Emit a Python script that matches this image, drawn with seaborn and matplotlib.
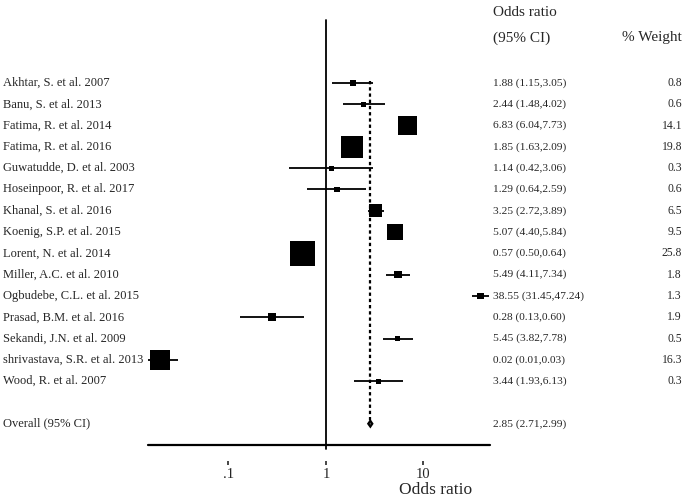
import numpy as np
import pandas as pd
import matplotlib.pyplot as plt
import matplotlib.transforms as mtransforms
import seaborn as sns

# Study data
studies = ["Akhtar, S. et al. 2007", "Banu, S. et al. 2013", "Fatima, R. et al. 2014",
           "Fatima, R. et al. 2016", "Guwatudde, D. et al. 2003", "Hoseinpoor, R. et al. 2017",
           "Khanal, S. et al. 2016", "Koenig, S.P. et al. 2015", "Lorent, N. et al. 2014",
           "Miller, A.C. et al. 2010", "Ogbudebe, C.L. et al. 2015", "Prasad, B.M. et al. 2016",
           "Sekandi, J.N. et al. 2009", "shrivastava, S.R. et al. 2013", "Wood, R. et al. 2007"]
odds = [1.88, 2.44, 6.83, 1.85, 1.14, 1.29, 3.25, 5.07, 0.57, 5.49, 38.55, 0.28, 5.45, 0.02, 3.44]
ci_low = [1.15, 1.48, 6.04, 1.63, 0.42, 0.64, 2.72, 4.40, 0.50, 4.11, 31.45, 0.13, 3.82, 0.01, 1.93]
ci_high = [3.05, 4.02, 7.73, 2.09, 3.06, 2.59, 3.89, 5.84, 0.64, 7.34, 47.24, 0.60, 7.78, 0.03, 6.13]
weights = [0.8, 0.6, 14.1, 19.8, 0.3, 0.6, 6.5, 9.5, 25.8, 1.8, 1.3, 1.9, 0.5, 16.3, 0.3]

overall_label = "Overall (95% CI)"
overall_or = 2.85
overall_low = 2.71
overall_high = 2.99

tick_values = [0.1, 1, 10]
tick_labels = [".1", "1", "10"]

df = pd.DataFrame({"study": studies, "odds": odds, "low": ci_low,
                   "high": ci_high, "weight": weights})
df["row"] = np.arange(len(df))
overall_row = len(df) + 1

sns.set_style("white")
plt.rcParams["font.family"] = ["Liberation Serif", "DejaVu Serif"]

fig = plt.figure(figsize=(6.85, 5.01), dpi=100)
ax = fig.add_axes([148 / 685, 1 - 445 / 501, 342 / 685, 425 / 501])
ax.set_xscale("log")

# confidence intervals
ax.hlines(df["row"], df["low"], df["high"], color="black", lw=1.3)

# weighted squares (area proportional to weight)
sns.scatterplot(data=df, x="odds", y="row", size="weight", sizes=(8, 330),
                size_norm=(0, 25.8), marker="s", color="black", linewidth=0,
                legend=False, ax=ax, zorder=3)

# line of no effect and overall estimate
ax.axvline(1, ymin=-0.01, color="black", lw=1.3, clip_on=False)
ax.vlines(overall_or, -0.1, overall_row, color="black", lw=1.6,
          linestyles=(0, (1.5, 1.3)))
dx = [overall_low, overall_or, overall_high, overall_or]
dy = [overall_row, overall_row - 0.14, overall_row, overall_row + 0.14]
ax.fill(dx, dy, facecolor="#555555", edgecolor="black", lw=1.5, zorder=4)

ax.set_xlim(0.01494, 48.1)
ax.set_ylim(17.0, -2.96)
ax.set_yticks([])
ax.set_ylabel("")
ax.set_xticks(tick_values, labels=tick_labels)
ax.minorticks_off()
ax.tick_params(axis="x", direction="out", length=3, width=1.2, pad=2,
               labelsize=10.5, bottom=True)
for side in ["top", "right", "left"]:
    ax.spines[side].set_visible(False)
ax.spines["bottom"].set_position(("outward", 11.5))
ax.spines["bottom"].set_visible(False)
ax.axhline(17.0, color="black", lw=1.6, clip_on=False)

ax.set_xlabel("Odds ratio", fontsize=12.5, va="top")
ax.xaxis.set_label_coords((436 - 148) / 342, (445 - 482) / 425)

# text columns
trans = mtransforms.blended_transform_factory(fig.transFigure, ax.transData)
for _, r in df.iterrows():
    ax.text(3 / 685, r["row"], r["study"], transform=trans, ha="left",
            va="center", fontsize=9)
    ax.text(493 / 685, r["row"], f"{r['odds']:.2f} ({r['low']:.2f},{r['high']:.2f})",
            transform=trans, ha="left", va="center", fontsize=8.2)
    ax.text(682 / 685, r["row"], f"{r['weight']:.1f}", transform=trans,
            ha="right", va="center", fontsize=8.4)
ax.text(3 / 685, overall_row, overall_label, transform=trans, ha="left",
        va="center", fontsize=9)
ax.text(493 / 685, overall_row,
        f"{overall_or:.2f} ({overall_low:.2f},{overall_high:.2f})",
        transform=trans, ha="left", va="center", fontsize=8.2)

fig.text(493 / 685, 1 - 12 / 501, "Odds ratio", ha="left", va="center", fontsize=11)
fig.text(493 / 685, 1 - 38 / 501, "(95% CI)", ha="left", va="center", fontsize=11)
fig.text(682 / 685, 1 - 38 / 501, "% Weight", ha="right", va="center", fontsize=11)

fig.savefig("out.png", dpi=100)
